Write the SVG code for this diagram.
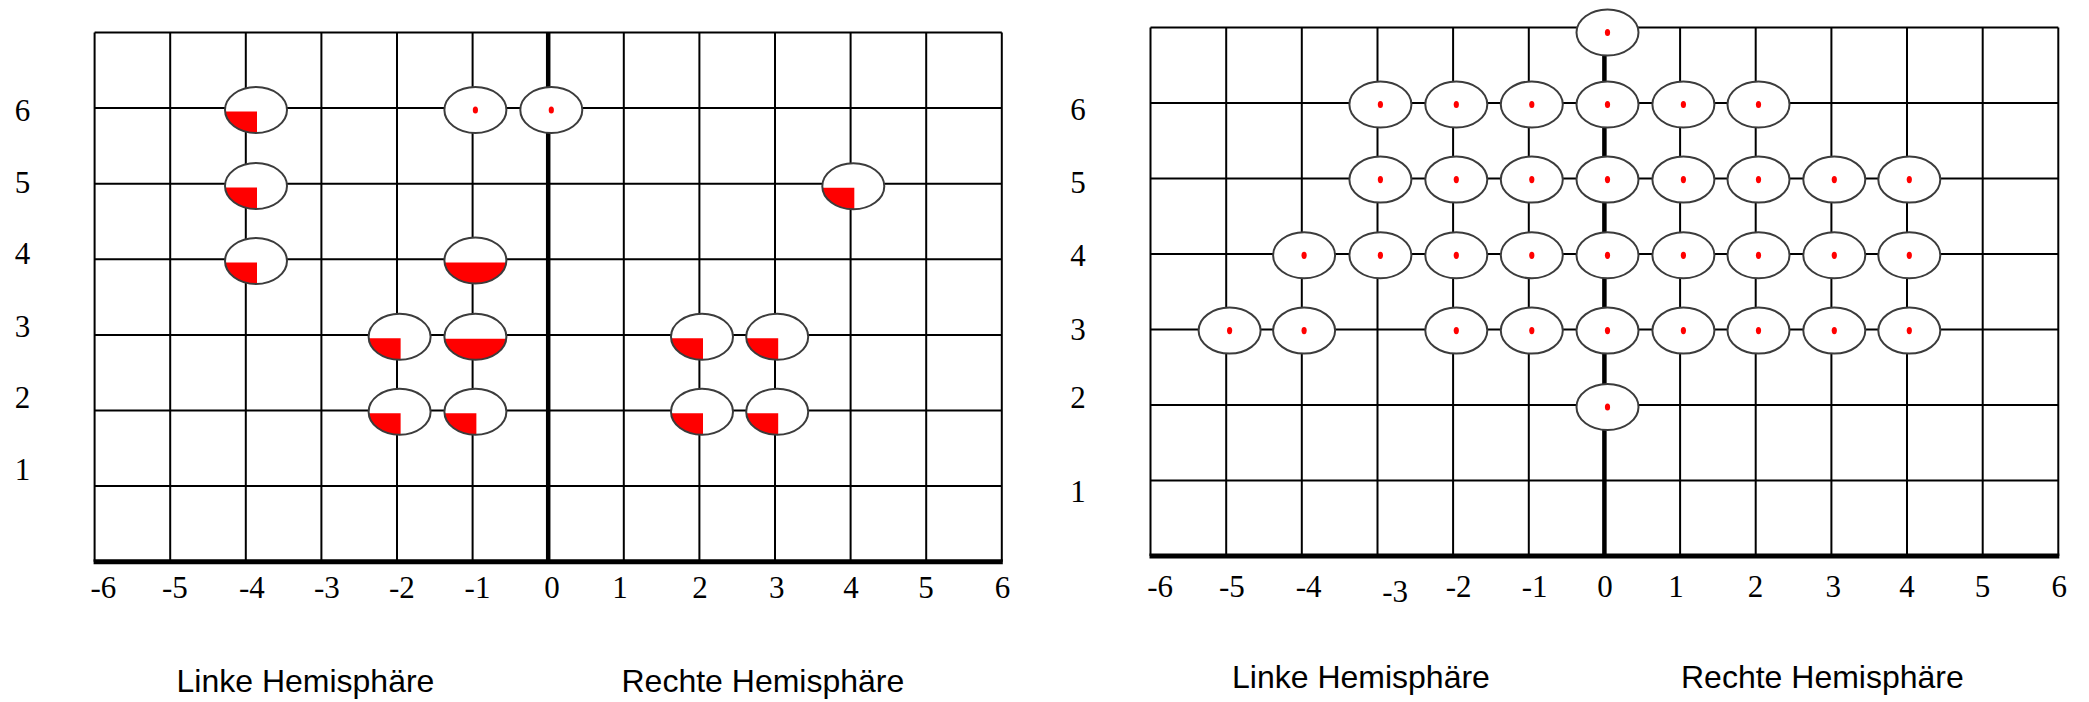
<svg xmlns="http://www.w3.org/2000/svg" xmlns:xlink="http://www.w3.org/1999/xlink" width="2089" height="702" viewBox="0 0 2089 702">
<style>
.grid{stroke:#000;stroke-width:2;fill:none}
.thick{stroke:#000;fill:none}
.num{font-family:"Liberation Serif","Times New Roman",serif;font-size:31px;fill:#000}
.title{font-family:"Liberation Sans",Arial,sans-serif;font-size:32px;fill:#000}
.ring{fill:none;stroke:#3c3c3c;stroke-width:2}
.bg{fill:#fff}
.red{fill:#ff0000}
</style>
<defs>
<g id="ellQ">
<ellipse class="bg" cx="0" cy="0" rx="31" ry="23"/>
<path class="red" d="M1,1.5 L-30.9,1.5 A31,23 0 0 0 1,23 Z"/>
<ellipse class="ring" cx="0" cy="0" rx="31" ry="23"/>
</g>
<g id="ellH">
<ellipse class="bg" cx="0" cy="0" rx="31" ry="23"/>
<path class="red" d="M-30.9,2 L30.9,2 A31,23 0 0 1 -30.9,2 Z"/>
<ellipse class="ring" cx="0" cy="0" rx="31" ry="23"/>
</g>
<g id="ellD">
<ellipse class="bg" cx="0" cy="0" rx="31" ry="23"/>
<ellipse class="red" cx="0" cy="0" rx="2.6" ry="3.6"/>
<ellipse class="ring" cx="0" cy="0" rx="31" ry="23"/>
</g>
</defs>
<rect width="2089" height="702" fill="#fff"/>

<g id="connectors">
<!-- left grid -->
<path class="grid" d="M94.6,32.5V561.7 M170.2,32.5V561.7 M245.8,32.5V561.7 M321.4,32.5V561.7 M397,32.5V561.7 M472.6,32.5V561.7 M623.8,32.5V561.7 M699.4,32.5V561.7 M775,32.5V561.7 M850.6,32.5V561.7 M926.2,32.5V561.7 M1001.8,32.5V561.7 M94.6,32.5H1001.8 M94.6,108.1H1001.8 M94.6,183.7H1001.8 M94.6,259.3H1001.8 M94.6,334.9H1001.8 M94.6,410.5H1001.8 M94.6,486.1H1001.8"/>
<path class="thick" stroke-width="4.5" d="M548.2,32.5V561.7"/>
<path class="thick" stroke-width="5" d="M93.6,561.7H1002.8"/>
<!-- right grid -->
<path class="grid" d="M1150.5,27.5V556 M1226.2,27.5V556 M1301.8,27.5V556 M1377.5,27.5V556 M1453.1,27.5V556 M1528.8,27.5V556 M1680.1,27.5V556 M1755.7,27.5V556 M1831.4,27.5V556 M1907,27.5V556 M1982.7,27.5V556 M2058.3,27.5V556 M1150.5,27.5H2058.3 M1150.5,103H2058.3 M1150.5,178.5H2058.3 M1150.5,254H2058.3 M1150.5,329.5H2058.3 M1150.5,405H2058.3 M1150.5,480.5H2058.3"/>
<path class="thick" stroke-width="4.5" d="M1604.4,27.5V556"/>
<path class="thick" stroke-width="5" d="M1149.5,556H2059.3"/>
</g>

<!-- left grid nodes -->
<g id="L_m4_6"><use xlink:href="#ellQ" x="256" y="110"/></g>
<g id="L_m4_5"><use xlink:href="#ellQ" x="256" y="186"/></g>
<g id="L_m4_4"><use xlink:href="#ellQ" x="256" y="261"/></g>
<g id="L_m1_6"><use xlink:href="#ellD" x="475.4" y="110"/></g>
<g id="L_0_6"><use xlink:href="#ellD" x="551.3" y="110"/></g>
<g id="L_m1_4"><use xlink:href="#ellH" x="475.4" y="260.5"/></g>
<g id="L_m2_3"><use xlink:href="#ellQ" x="399.6" y="336.7"/></g>
<g id="L_m1_3"><use xlink:href="#ellH" x="475.4" y="336.7"/></g>
<g id="L_m2_2"><use xlink:href="#ellQ" x="399.6" y="411.7"/></g>
<g id="L_m1_2"><use xlink:href="#ellQ" x="475.4" y="411.7"/></g>
<g id="L_2_3"><use xlink:href="#ellQ" x="702" y="336.7"/></g>
<g id="L_3_3"><use xlink:href="#ellQ" x="777.2" y="336.7"/></g>
<g id="L_2_2"><use xlink:href="#ellQ" x="702" y="411.7"/></g>
<g id="L_3_2"><use xlink:href="#ellQ" x="777.2" y="411.7"/></g>
<g id="L_4_5"><use xlink:href="#ellQ" x="853.3" y="186.3"/></g>

<!-- right grid nodes -->
<g id="R_0_7"><use xlink:href="#ellD" x="1607.5" y="32.5"/></g>
<g id="R_m3_6"><use xlink:href="#ellD" x="1380.4" y="104.5"/></g>
<g id="R_m2_6"><use xlink:href="#ellD" x="1456.3" y="104.5"/></g>
<g id="R_m1_6"><use xlink:href="#ellD" x="1531.8" y="104.5"/></g>
<g id="R_0_6"><use xlink:href="#ellD" x="1607.5" y="104.5"/></g>
<g id="R_1_6"><use xlink:href="#ellD" x="1683.4" y="104.5"/></g>
<g id="R_2_6"><use xlink:href="#ellD" x="1758.5" y="104.5"/></g>
<g id="R_m3_5"><use xlink:href="#ellD" x="1380.4" y="179.6"/></g>
<g id="R_m2_5"><use xlink:href="#ellD" x="1456.3" y="179.6"/></g>
<g id="R_m1_5"><use xlink:href="#ellD" x="1531.8" y="179.6"/></g>
<g id="R_0_5"><use xlink:href="#ellD" x="1607.5" y="179.6"/></g>
<g id="R_1_5"><use xlink:href="#ellD" x="1683.4" y="179.6"/></g>
<g id="R_2_5"><use xlink:href="#ellD" x="1758.5" y="179.6"/></g>
<g id="R_3_5"><use xlink:href="#ellD" x="1834.3" y="179.6"/></g>
<g id="R_4_5"><use xlink:href="#ellD" x="1909.3" y="179.6"/></g>
<g id="R_m4_4"><use xlink:href="#ellD" x="1304.1" y="255.3"/></g>
<g id="R_m3_4"><use xlink:href="#ellD" x="1380.4" y="255.3"/></g>
<g id="R_m2_4"><use xlink:href="#ellD" x="1456.3" y="255.3"/></g>
<g id="R_m1_4"><use xlink:href="#ellD" x="1531.8" y="255.3"/></g>
<g id="R_0_4"><use xlink:href="#ellD" x="1607.5" y="255.3"/></g>
<g id="R_1_4"><use xlink:href="#ellD" x="1683.4" y="255.3"/></g>
<g id="R_2_4"><use xlink:href="#ellD" x="1758.5" y="255.3"/></g>
<g id="R_3_4"><use xlink:href="#ellD" x="1834.3" y="255.3"/></g>
<g id="R_4_4"><use xlink:href="#ellD" x="1909.3" y="255.3"/></g>
<g id="R_m5_3"><use xlink:href="#ellD" x="1229.6" y="330.6"/></g>
<g id="R_m4_3"><use xlink:href="#ellD" x="1304.1" y="330.6"/></g>
<g id="R_m2_3"><use xlink:href="#ellD" x="1456.3" y="330.6"/></g>
<g id="R_m1_3"><use xlink:href="#ellD" x="1531.8" y="330.6"/></g>
<g id="R_0_3"><use xlink:href="#ellD" x="1607.5" y="330.6"/></g>
<g id="R_1_3"><use xlink:href="#ellD" x="1683.4" y="330.6"/></g>
<g id="R_2_3"><use xlink:href="#ellD" x="1758.5" y="330.6"/></g>
<g id="R_3_3"><use xlink:href="#ellD" x="1834.3" y="330.6"/></g>
<g id="R_4_3"><use xlink:href="#ellD" x="1909.3" y="330.6"/></g>
<g id="R_0_2"><use xlink:href="#ellD" x="1607.5" y="407"/></g>

<!-- left axis labels -->
<g id="L_ylabels" class="num" text-anchor="middle">
<text x="22.5" y="120.5">6</text>
<text x="22.5" y="192.5">5</text>
<text x="22.5" y="264">4</text>
<text x="22.5" y="336.5">3</text>
<text x="22.5" y="408.3">2</text>
<text x="22.5" y="480">1</text>
</g>
<g id="L_xlabels" class="num">
<text x="90.5" y="598">-6</text>
<text x="162" y="598">-5</text>
<text x="239" y="598">-4</text>
<text x="314" y="598">-3</text>
<text x="389" y="598">-2</text>
<text x="464.6" y="598">-1</text>
<text x="552" y="598" text-anchor="middle">0</text>
<text x="620" y="598" text-anchor="middle">1</text>
<text x="700" y="598" text-anchor="middle">2</text>
<text x="776.7" y="598" text-anchor="middle">3</text>
<text x="851" y="598" text-anchor="middle">4</text>
<text x="926" y="598" text-anchor="middle">5</text>
<text x="1002.5" y="598" text-anchor="middle">6</text>
</g>
<g id="R_ylabels" class="num" text-anchor="middle">
<text x="1078" y="120">6</text>
<text x="1078" y="193">5</text>
<text x="1078" y="266">4</text>
<text x="1078" y="340">3</text>
<text x="1078" y="408">2</text>
<text x="1078" y="502">1</text>
</g>
<g id="R_xlabels" class="num">
<text x="1147.3" y="596.5">-6</text>
<text x="1219" y="596.5">-5</text>
<text x="1295.7" y="596.5">-4</text>
<text x="1382.3" y="601.5">-3</text>
<text x="1445.7" y="596.5">-2</text>
<text x="1521.7" y="596.5">-1</text>
<text x="1605" y="596.5" text-anchor="middle">0</text>
<text x="1676" y="596.5" text-anchor="middle">1</text>
<text x="1755.5" y="596.5" text-anchor="middle">2</text>
<text x="1833.3" y="596.5" text-anchor="middle">3</text>
<text x="1907" y="596.5" text-anchor="middle">4</text>
<text x="1982.5" y="596.5" text-anchor="middle">5</text>
<text x="2059.2" y="596.5" text-anchor="middle">6</text>
</g>

<g id="titles" class="title">
<text x="176.5" y="692">Linke Hemisphäre</text>
<text x="621.5" y="692">Rechte Hemisphäre</text>
<text x="1232" y="688">Linke Hemisphäre</text>
<text x="1681" y="688">Rechte Hemisphäre</text>
</g>
</svg>
